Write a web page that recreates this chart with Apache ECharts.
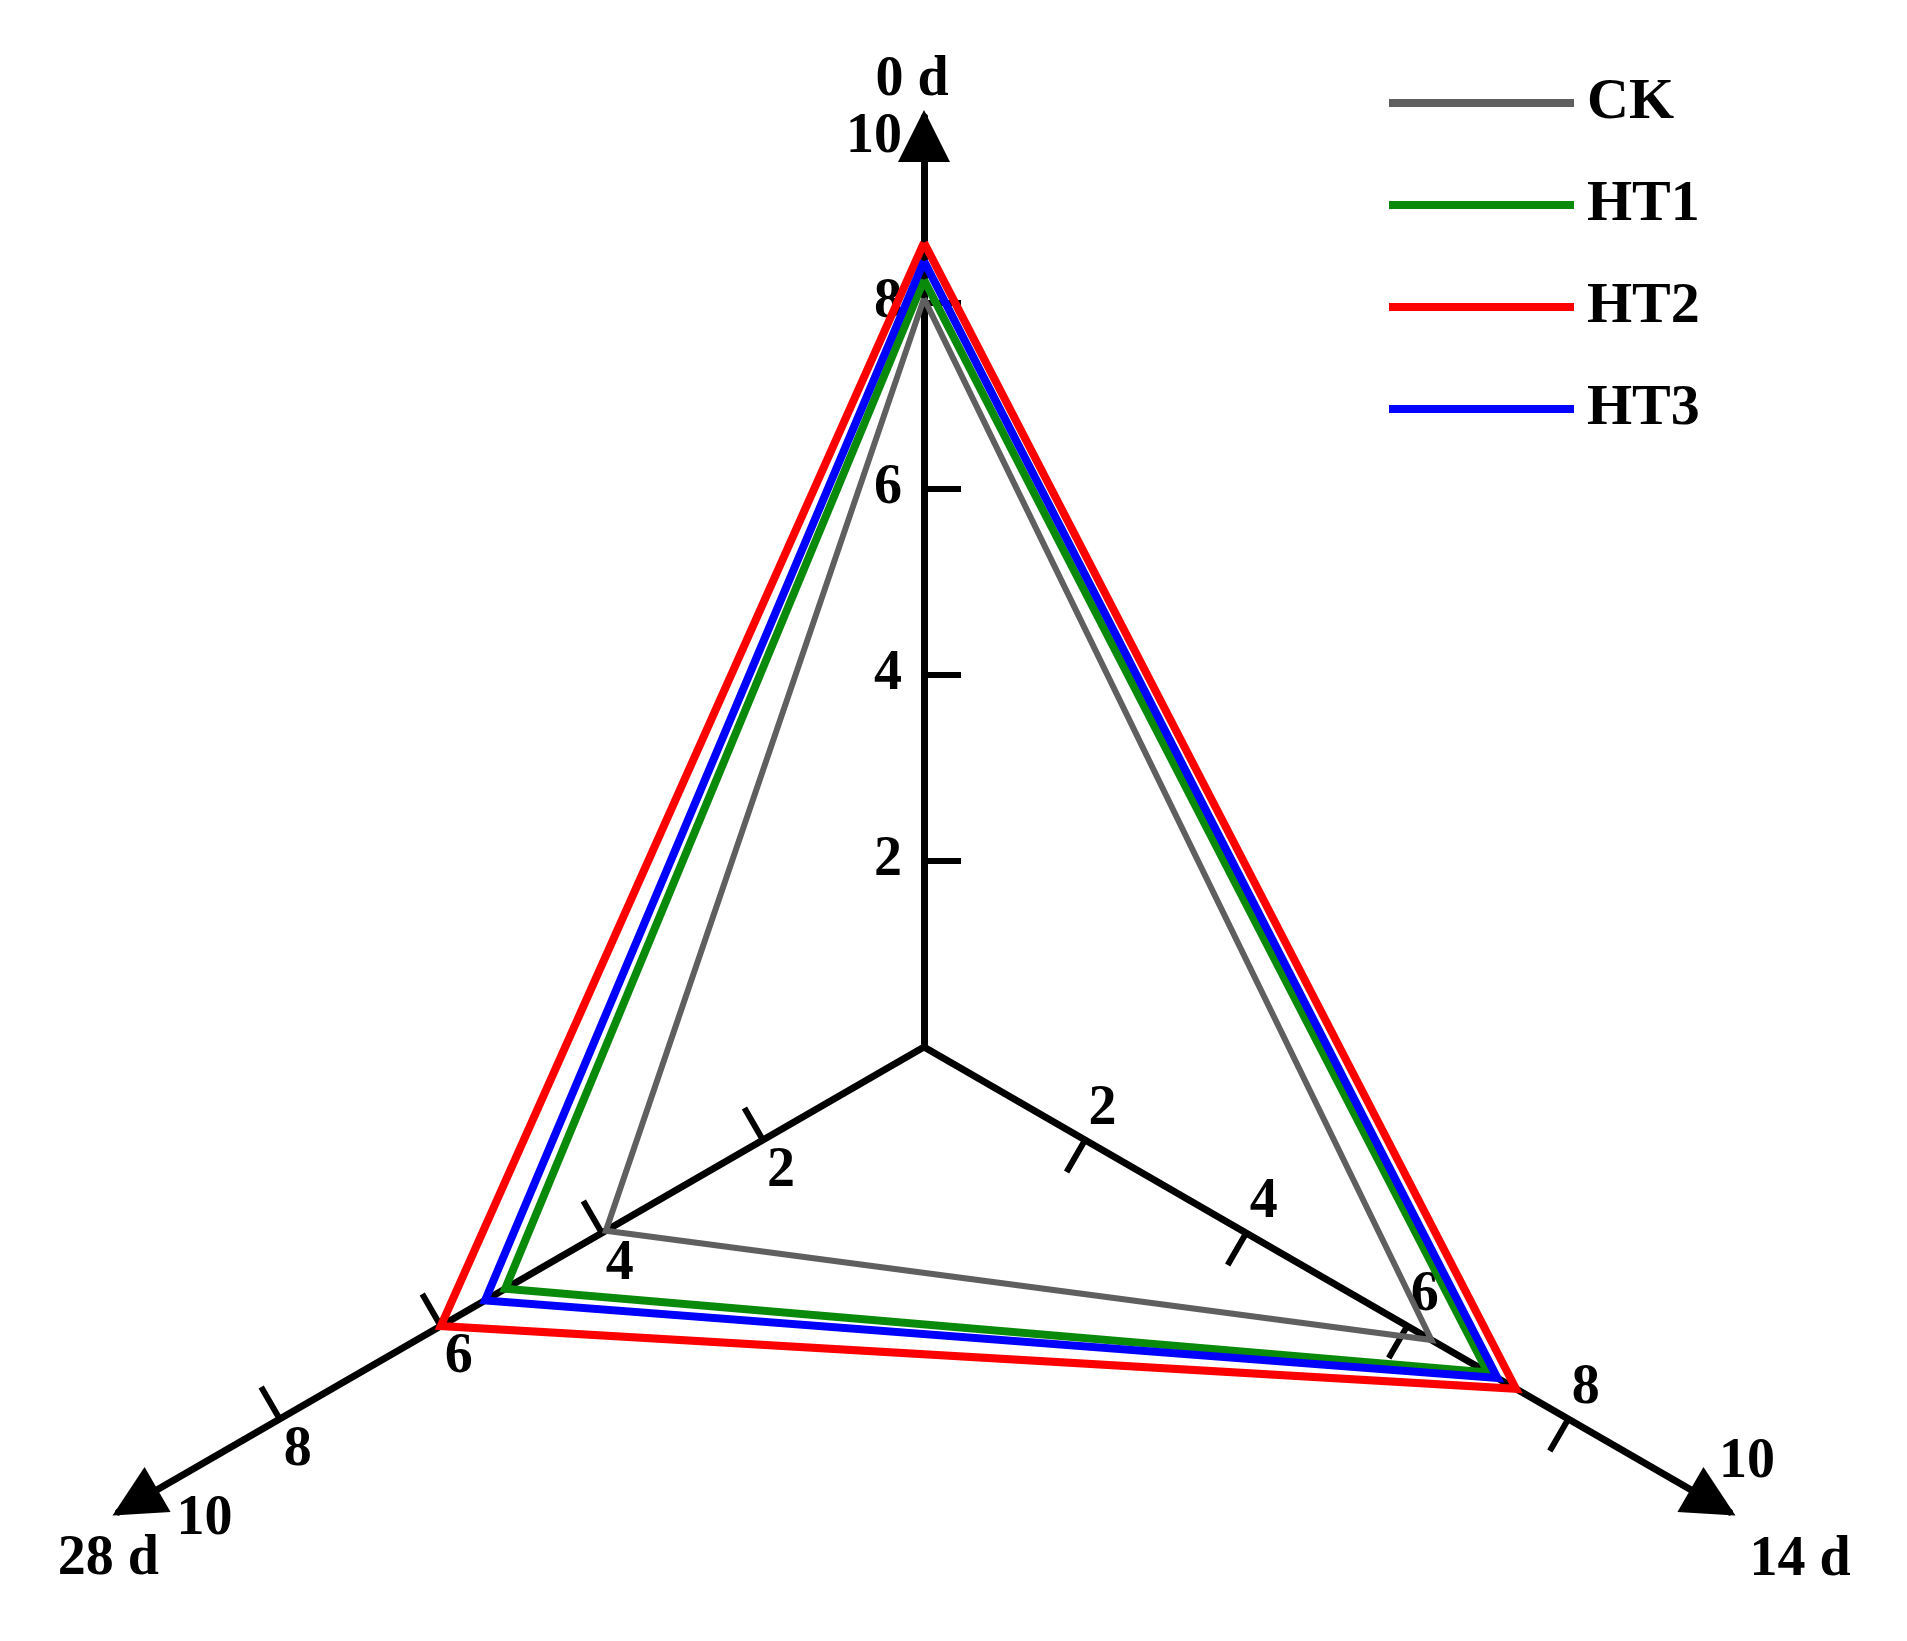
<!DOCTYPE html>
<html>
<head>
<meta charset="utf-8">
<script src="https://cdn.jsdelivr.net/npm/echarts@6/dist/echarts.min.js"></script>
<style>
  html, body { margin: 0; padding: 0; background: #fff; }
  #main { width: 1907px; height: 1641px; }
</style>
</head>
<body>
<div id="main"></div>
<script>
// radar goes counter-clockwise from the top, so order is 0 d, 28 d, 14 d
const days = ['0 d', '28 d', '14 d'];
const axisMax = 10;
const tickValues = [2, 4, 6, 8];
const labelValues = [2, 4, 6, 8, 10];

const seriesNames = ['CK', 'HT1', 'HT2', 'HT3'];
const ck = [8.05, 3.95, 6.3];
const ht1 = [8.25, 5.2, 7.0];
const ht2 = [8.65, 6.0, 7.35];
const ht3 = [8.45, 5.45, 7.12];
const colors = ['#5f5f5f', '#0a8a0a', '#ff0000', '#0000ff'];

const font = 'Liberation Serif';

// per-axis tweaks so the names and the "10" labels sit like in the figure
const axisLook = [
  { nameGap: 8, name: { align: 'center', verticalAlign: 'bottom', padding: [0, 24, 0, 0] },
    label: { align: 'right', margin: 22 }, ten: [42, 0, 0, 0] },
  { nameGap: 12, name: { align: 'center', verticalAlign: 'top', padding: [14, 0, 0, 0] },
    label: { align: 'center', margin: 36 }, ten: [0, 0, 48, 136] },
  { nameGap: 14, name: { align: 'left', verticalAlign: 'top', padding: [14, 0, 0, 8] },
    label: { align: 'center', margin: 35 }, ten: [0, 0, 38, 0] }
];

const myChart = echarts.init(document.getElementById('main'));

const indicator = days.map(function (d, i) {
  const look = axisLook[i];
  return {
    name: d,
    min: 0,
    max: axisMax,
    nameGap: look.nameGap,
    nameTextStyle: look.name,
    axisLabel: {
      align: look.label.align,
      verticalAlign: 'middle',
      margin: look.label.margin,
      formatter: function (v) {
        return v === axisMax ? '{ten|' + v + '}' : String(v);
      },
      rich: {
        ten: {
          padding: look.ten,
          fontFamily: font, fontWeight: 'bold', fontSize: 56, color: '#000'
        }
      }
    }
  };
});

const allData = [ck, ht1, ht2, ht3];

const option = {
  backgroundColor: '#fff',
  color: colors,
  animation: false,
  legend: {
    orient: 'vertical',
    left: 1384,
    top: 68,
    icon: 'rect',
    itemWidth: 185,
    itemHeight: 8,
    itemGap: 42,
    data: seriesNames,
    textStyle: {
      fontFamily: font, fontWeight: 'bold', fontSize: 58, lineHeight: 60,
      color: '#000', padding: [0, 0, 0, 8]
    }
  },
  radar: {
    center: [924, 1047],
    radius: 930,
    startAngle: 90,
    splitNumber: 5,
    shape: 'polygon',
    indicator: indicator,
    axisName: {
      color: '#000', fontFamily: font, fontWeight: 'bold', fontSize: 56
    },
    axisLine: {
      show: true,
      symbol: ['none', 'triangle'],
      symbolSize: [52, 52],
      symbolOffset: [0, -19],
      lineStyle: { color: '#000', width: 7 }
    },
    axisTick: {
      show: true,
      // negative length puts the ticks on the side away from the labels
      length: -37,
      customValues: tickValues,
      lineStyle: { color: '#000', width: 6 }
    },
    axisLabel: {
      show: true,
      customValues: labelValues,
      color: '#000', fontFamily: font, fontWeight: 'bold', fontSize: 56
    },
    splitLine: { show: false },
    splitArea: { show: false }
  },
  series: seriesNames.map(function (name, i) {
    return {
      name: name,
      type: 'radar',
      symbol: 'none',
      lineStyle: { width: i === 0 ? 6 : 8, color: colors[i], join: 'miter', miterLimit: 10 },
      data: [{ name: name, value: allData[i] }]
    };
  })
};

myChart.setOption(option);
</script>
</body>
</html>
